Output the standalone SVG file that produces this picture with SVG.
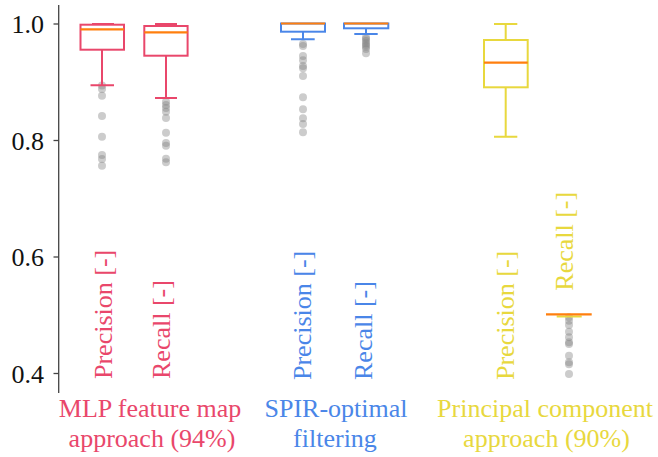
<svg xmlns="http://www.w3.org/2000/svg" width="658" height="457" viewBox="0 0 658 457" font-family="'Liberation Serif', serif">
<style>
text{font-family:'Liberation Serif',serif;font-size:26px}
.tick{font-size:26px;fill:#111;text-anchor:end}
.ax{stroke:#444;stroke-width:1.3;fill:none}
.red{stroke:#E9476B;fill:none;stroke-width:2}
.blue{stroke:#4A86E8;fill:none;stroke-width:2}
.yel{stroke:#E8D83E;fill:none;stroke-width:2}
.med{stroke:#FF7F0E;stroke-width:2.2}
.tr{fill:#E9476B}.tb{fill:#4A86E8}.ty{fill:#E8D83E}
.o{fill:#808080;fill-opacity:0.4}
.c{text-anchor:middle}
</style>
<g id="axis">
<line class="ax" x1="58.7" y1="5" x2="58.7" y2="393"/>
<line class="ax" x1="53.5" y1="24" x2="58.7" y2="24"/>
<line class="ax" x1="53.5" y1="140.5" x2="58.7" y2="140.5"/>
<line class="ax" x1="53.5" y1="257" x2="58.7" y2="257"/>
<line class="ax" x1="53.5" y1="373.5" x2="58.7" y2="373.5"/>
<text class="tick" x="44" y="33">1.0</text>
<text class="tick" x="44" y="149.5">0.8</text>
<text class="tick" x="44" y="266">0.6</text>
<text class="tick" x="44" y="382.5">0.4</text>
</g>
<g id="mlp-precision">
<g class="o"><circle cx="102" cy="85.5" r="4"/><circle cx="102" cy="89" r="4"/><circle cx="102" cy="95.7" r="4"/><circle cx="102" cy="116" r="4"/><circle cx="102" cy="136.7" r="4"/><circle cx="102" cy="155" r="4"/><circle cx="102" cy="159" r="4"/><circle cx="102" cy="165.7" r="4"/></g>
<rect class="red" x="80.5" y="24.7" width="43.5" height="25"/>
<path class="red" d="M102 24.7V24M92 24H114M102 49.7V85.3M90.5 85.3H114"/>
<line class="med" x1="80.5" y1="29.3" x2="124" y2="29.3"/>
<text class="tr" transform="translate(111.5,379) rotate(-90)">Precision [-]</text>
</g>
<g id="mlp-recall">
<g class="o"><circle cx="166" cy="101.7" r="4"/><circle cx="166" cy="105" r="4"/><circle cx="166" cy="108" r="4"/><circle cx="166" cy="111.7" r="4"/><circle cx="166" cy="118" r="4"/><circle cx="166" cy="132.7" r="4"/><circle cx="166" cy="143" r="4"/><circle cx="166" cy="145.7" r="4"/><circle cx="166" cy="158.7" r="4"/><circle cx="166" cy="162.3" r="4"/></g>
<rect class="red" x="144.3" y="26" width="43.3" height="29.7"/>
<path class="red" d="M166 26V24M155 24H177M166 55.7V98M155 98H177"/>
<line class="med" x1="144.3" y1="32.3" x2="187.6" y2="32.3"/>
<text class="tr" transform="translate(170,379) rotate(-90)">Recall [-]</text>
</g>
<g id="spir-precision">
<g class="o"><circle cx="303" cy="44" r="4"/><circle cx="303" cy="46" r="4"/><circle cx="303" cy="56" r="4"/><circle cx="303" cy="60.3" r="4"/><circle cx="303" cy="66" r="4"/><circle cx="303" cy="68.3" r="4"/><circle cx="303" cy="76" r="4"/><circle cx="303" cy="97.3" r="4"/><circle cx="303" cy="109.3" r="4"/><circle cx="303" cy="118.3" r="4"/><circle cx="303" cy="124" r="4"/><circle cx="303" cy="132.3" r="4"/></g>
<rect class="blue" x="281" y="23.5" width="44" height="8.2"/>
<path class="blue" d="M303 31.7V39.3M291 39.3H314.7"/>
<line class="med" x1="281" y1="23.5" x2="325" y2="23.5"/>
<text class="tb" transform="translate(311,380) rotate(-90)">Precision [-]</text>
</g>
<g id="spir-recall">
<g class="o"><circle cx="366" cy="37.3" r="4"/><circle cx="366" cy="39" r="4"/><circle cx="366" cy="41" r="4"/><circle cx="366" cy="43.3" r="4"/><circle cx="366" cy="45" r="4"/><circle cx="366" cy="46.7" r="4"/><circle cx="366" cy="49" r="4"/><circle cx="366" cy="53.3" r="4"/></g>
<rect class="blue" x="344" y="23.5" width="44.3" height="4.8"/>
<path class="blue" d="M366 28.3V34M354.3 34H377.7"/>
<line class="med" x1="344" y1="23.5" x2="388.3" y2="23.5"/>
<text class="tb" transform="translate(372,380) rotate(-90)">Recall [-]</text>
</g>
<g id="pca-precision">
<rect class="yel" x="484" y="40" width="43.7" height="47.3"/>
<path class="yel" d="M505.7 40V24M494 24H517.3M505.7 87.3V136.7M494 136.7H517.3"/>
<line class="med" x1="484" y1="62.7" x2="527.7" y2="62.7"/>
<text class="ty" transform="translate(513.5,380) rotate(-90)">Precision [-]</text>
</g>
<g id="pca-recall">
<g class="o"><circle cx="569" cy="317.3" r="4"/><circle cx="569" cy="320.7" r="4"/><circle cx="569" cy="325" r="4"/><circle cx="569" cy="331.7" r="4"/><circle cx="569" cy="337.3" r="4"/><circle cx="569" cy="342.3" r="4"/><circle cx="569" cy="344" r="4"/><circle cx="569" cy="355.7" r="4"/><circle cx="569" cy="362.3" r="4"/><circle cx="569" cy="364.3" r="4"/><circle cx="569" cy="374" r="4"/></g>
<path class="yel" d="M556.7 316.5H581.7"/>
<line class="med" x1="546" y1="314.3" x2="591.7" y2="314.3"/>
<text class="ty" transform="translate(572.5,290.7) rotate(-90)">Recall [-]</text>
</g>
<g id="labels">
<text class="tr c" x="150" y="417">MLP feature map</text>
<text class="tr c" x="152" y="447">approach (94%)</text>
<text class="tb c" x="336" y="417">SPIR-optimal</text>
<text class="tb c" x="335" y="447">filtering</text>
<text class="ty c" x="545" y="417">Principal component</text>
<text class="ty c" x="546.5" y="447">approach (90%)</text>
</g>
</svg>
